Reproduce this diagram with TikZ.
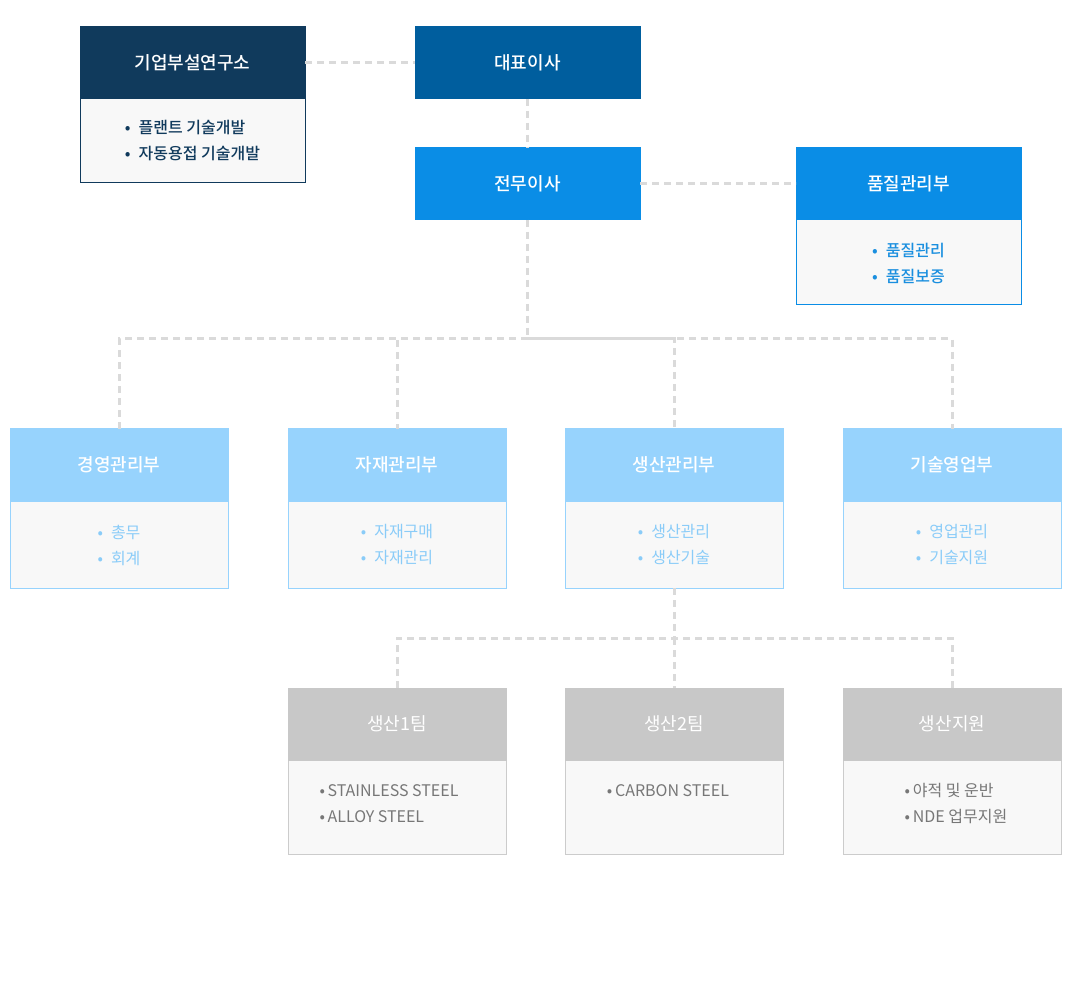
\documentclass[tikz,border=0pt]{standalone}
\usepackage{fontspec}
\setmainfont{Noto Sans CJK KR}[BoldFont={Noto Sans CJK KR Bold}]
\newfontfamily\krmed{Noto Sans CJK KR Medium}
\definecolor{navy}{HTML}{103A5C}
\definecolor{ceo}{HTML}{005E9E}
\definecolor{blue}{HTML}{0A8DE6}
\definecolor{qatext}{HTML}{1A8FDF}
\definecolor{lblue}{HTML}{97D3FD}
\definecolor{lbtext}{HTML}{8ACCF8}
\definecolor{ghead}{HTML}{C8C8C8}
\definecolor{gborder}{HTML}{CCCCCC}
\definecolor{gtext}{HTML}{777777}
\definecolor{bodybg}{HTML}{F8F8F8}
\definecolor{dashc}{HTML}{DADADA}
\begin{document}
\begin{tikzpicture}[x=1pt,y=-1pt,
  head/.style={draw=#1,fill=#1,line width=1pt,inner sep=0pt,outer sep=0pt,
    text=white,font=\fontsize{18}{22}\selectfont\krmed},
  bodyb/.style={draw=#1,fill=bodybg,line width=1pt,inner sep=0pt,outer sep=0pt},
  wide/.style={minimum width=225pt},
  mid/.style={minimum width=218pt},
  hh/.style={minimum height=72pt},
  list/.style={align=left,inner sep=0pt,font=\fontsize{16}{26}\selectfont},
  conn/.style={draw=dashc,line width=3pt,dash pattern=on 7pt off 5pt}]
\useasboundingbox (0,0) rectangle (1072,1000);
% top level
\node[bodyb=navy,wide,minimum height=84pt] (labb) at (192.5,141) {};
\node[head=navy,wide,hh] (lab) at (192.5,63) {기업부설연구소};
\node[list,text=navy,font=\fontsize{16}{26}\selectfont\krmed] (labt) at (192.5,141) {•\hspace{0.5em}플랜트 기술개발\\•\hspace{0.5em}자동용접 기술개발};
\node[head=ceo,wide,hh] (ceo) at (527.5,63) {대표이사};
\node[head=blue,wide,hh] (exec) at (527.5,184) {전무이사};
\node[bodyb=blue,wide,minimum height=85pt] (qab) at (908.5,262.5) {};
\node[head=blue,wide,hh] (qa) at (908.5,184) {품질관리부};
\node[list,text=qatext,font=\fontsize{16}{26}\selectfont\krmed] (qat) at (908.5,263) {•\hspace{0.5em}품질관리\\•\hspace{0.5em}품질보증};
% departments
\node[bodyb=lblue,mid,minimum height=87pt] (mgb) at (119,544.5) {};
\node[head=lblue,mid,hh] (mg) at (119,465) {경영관리부};
\node[list,text=lbtext] (mgt) at (119,545) {•\hspace{0.5em}총무\\•\hspace{0.5em}회계};
\node[bodyb=lblue,mid,minimum height=87pt] (matb) at (397,544.5) {};
\node[head=lblue,mid,hh] (mat) at (397,465) {자재관리부};
\node[list,text=lbtext] (matt) at (397,545) {•\hspace{0.5em}자재구매\\•\hspace{0.5em}자재관리};
\node[bodyb=lblue,mid,minimum height=87pt] (prodb) at (674,544.5) {};
\node[head=lblue,mid,hh] (prod) at (674,465) {생산관리부};
\node[list,text=lbtext] (prodt) at (674,545) {•\hspace{0.5em}생산관리\\•\hspace{0.5em}생산기술};
\node[bodyb=lblue,mid,minimum height=87pt] (techb) at (952,544.5) {};
\node[head=lblue,mid,hh] (tech) at (952,465) {기술영업부};
\node[list,text=lbtext] (techt) at (952,545) {•\hspace{0.5em}영업관리\\•\hspace{0.5em}기술지원};
% teams
\node[bodyb=gborder,mid,minimum height=94pt] (t1b) at (397,807) {};
\node[head=ghead,mid,hh,font=\fontsize{18}{22}\selectfont] (t1) at (397,724) {생산1팀};
\node[list,text=gtext] (t1t) at (389,804) {•\,STAINLESS STEEL\\•\,ALLOY STEEL};
\node[bodyb=gborder,mid,minimum height=94pt] (t2b) at (674,807) {};
\node[head=ghead,mid,hh,font=\fontsize{18}{22}\selectfont] (t2) at (674,724) {생산2팀};
\node[list,text=gtext] (t2t) at (668,791) {•\,CARBON STEEL};
\node[bodyb=gborder,mid,minimum height=94pt] (supb) at (952,807) {};
\node[head=ghead,mid,hh,font=\fontsize{18}{22}\selectfont] (sup) at (952,724) {생산지원};
\node[list,text=gtext] (supt) at (956,804) {•\,야적 및 운반\\•\,NDE 업무지원};
% connectors
\coordinate (j1) at (527.5,339);
\coordinate (j2) at (674,638);
\draw[conn] (lab.east) -- (ceo.west);
\draw[conn] (ceo.south) -- (exec.north);
\draw[conn] (exec.east) -- (qa.west);
\draw[conn] (exec.south) -- (j1);
\draw[conn] (mg.north) |- (j1) -| (tech.north);
\draw[conn] (j1) -| (mat.north);
\draw[conn] (j1) -| (prod.north);
\draw[conn] (prodb.south) -- (j2);
\draw[conn] (t1.north) |- (j2) -| (sup.north);
\draw[conn] (j2) -- (t2.north);
\end{tikzpicture}
\end{document}
